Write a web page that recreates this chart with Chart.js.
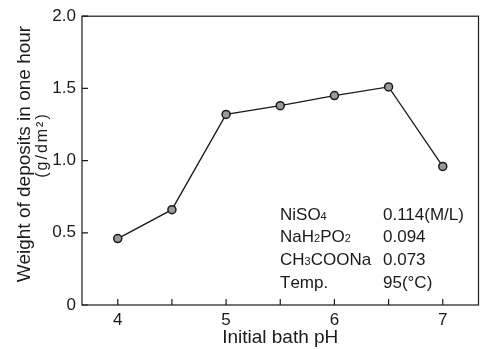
<!DOCTYPE html>
<html>
<head>
<meta charset="utf-8">
<script src="https://cdn.jsdelivr.net/npm/chart.js@4"></script>
<style>
  html, body { margin: 0; padding: 0; background: #fff; }
  #wrap { width: 484px; height: 349px; }
</style>
</head>
<body>
<div id="wrap"><canvas id="chart"></canvas></div>
<script>
const phValues = [4, 4.5, 5, 5.5, 6, 6.5, 7];
const deposits = [0.46, 0.66, 1.32, 1.38, 1.45, 1.51, 0.96];
const yTicks = [0, 0.5, 1.0, 1.5, 2.0];
const xLabels = [4, 5, 6, 7];
const yTitle = ['Weight of deposits in one hour', '(g/dm²)'];

// bath composition note, "_" marks a one-char subscript
const noteNames = ['NiSO_4', 'NaH_2PO_2', 'CH_3COONa', 'Temp.'];
const noteValues = ['0.114(M/L)', '0.094', '0.073', '95(°C)'];

const INK = '#1a1a1a';
const FONT = '"Liberation Sans", Arial, sans-serif';

function drawFormula(ctx, text, x, y, size) {
  let cx = x;
  for (let i = 0; i < text.length; i++) {
    if (text[i] === '_') {
      i++;
      ctx.font = `${Math.round(size * 0.62)}px ${FONT}`;
      ctx.fillText(text[i], cx, y + size * 0.12);
      cx += ctx.measureText(text[i]).width;
    } else {
      ctx.font = `${size}px ${FONT}`;
      ctx.fillText(text[i], cx, y);
      cx += ctx.measureText(text[i]).width;
    }
  }
}

const framePlugin = {
  id: 'frame',
  afterDatasetsDraw(chart) {
    const { ctx, chartArea: a, scales } = chart;
    ctx.save();
    ctx.strokeStyle = INK;
    ctx.lineWidth = 1.2;
    ctx.strokeRect(a.left, a.top, a.right - a.left, a.bottom - a.top);

    // inward tick marks
    ctx.beginPath();
    for (let v = 4; v <= 7; v += 0.5) {
      const px = scales.x.getPixelForValue(v);
      ctx.moveTo(px, a.bottom);
      ctx.lineTo(px, a.bottom - 6);
    }
    yTicks.forEach(v => {
      const py = scales.y.getPixelForValue(v);
      ctx.moveTo(a.left, py);
      ctx.lineTo(a.left + 6, py);
    });
    ctx.stroke();

    // y axis title, two lines rotated
    ctx.fillStyle = INK;
    ctx.textAlign = 'center';
    ctx.textBaseline = 'middle';
    ctx.save();
    ctx.translate(25, 154);
    ctx.rotate(-Math.PI / 2);
    ctx.font = `19px ${FONT}`;
    ctx.fillText(yTitle[0], 0, 0);
    ctx.restore();
    ctx.save();
    ctx.translate(43, 145);
    ctx.rotate(-Math.PI / 2);
    ctx.font = `16px ${FONT}`;
    ctx.letterSpacing = '2px';
    ctx.fillText(yTitle[1], 0, 0);
    ctx.restore();

    // composition note
    ctx.textAlign = 'left';
    const rowY = [215, 237, 260, 283];
    noteNames.forEach((n, i) => {
      drawFormula(ctx, n, 280, rowY[i], 17);
      ctx.font = `17px ${FONT}`;
      ctx.fillText(noteValues[i], 383, rowY[i]);
    });
    ctx.restore();
  }
};

new Chart(document.getElementById('chart'), {
  type: 'scatter',
  data: {
    datasets: [{
      data: phValues.map((p, i) => ({ x: p, y: deposits[i] })),
      showLine: true,
      borderColor: INK,
      borderWidth: 1.3,
      pointRadius: 4,
      pointBorderWidth: 1.5,
      pointBackgroundColor: '#9a9a9a',
      pointBorderColor: INK,
      tension: 0
    }]
  },
  options: {
    responsive: true,
    maintainAspectRatio: false,
    animation: false,
    layout: { padding: { top: 15, right: 4, left: 0, bottom: 0 } },
    plugins: { legend: { display: false }, tooltip: { enabled: false } },
    scales: {
      x: {
        type: 'linear',
        min: 3.67,
        max: 7.33,
        afterBuildTicks(scale) {
          scale.ticks = xLabels.map(v => ({ value: v }));
        },
        afterFit(scale) { scale.height = 44; },
        grid: { display: false, drawTicks: false, tickLength: 0 },
        border: { display: false },
        ticks: {
          color: INK,
          font: { family: FONT, size: 17 },
          padding: 5,
          maxRotation: 0,
          callback: v => String(v)
        },
        title: {
          display: true,
          text: 'Initial bath pH',
          color: INK,
          font: { family: FONT, size: 19 },
          padding: { top: 6, bottom: 0 }
        }
      },
      y: {
        min: 0,
        max: 2.0,
        afterBuildTicks(scale) {
          scale.ticks = yTicks.map(v => ({ value: v }));
        },
        afterFit(scale) { scale.width = 82; },
        grid: { display: false, drawTicks: false, tickLength: 0 },
        border: { display: false },
        ticks: {
          color: INK,
          font: { family: FONT, size: 17 },
          padding: 6,
          callback: v => (v === 0 ? '0' : v.toFixed(1))
        },
        title: { display: false }
      }
    }
  },
  plugins: [framePlugin]
});
</script>
</body>
</html>
